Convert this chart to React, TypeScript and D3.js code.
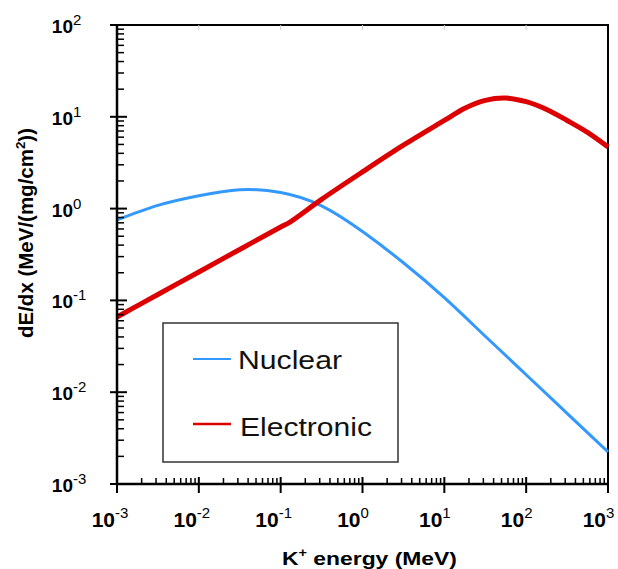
import React from "react";
import * as d3 from "d3";

const energyNuclear = [0.001, 0.00316, 0.01, 0.0316, 0.1, 0.316, 1, 3.16, 10, 31.6, 100, 316, 1000];
const nuclear = [0.752, 1.084, 1.38, 1.603, 1.496, 1.072, 0.562, 0.257, 0.107, 0.0407, 0.0155, 0.00589, 0.00224];

const energyElectronic = [0.001, 0.00316, 0.01, 0.0316, 0.1, 0.13, 0.316, 1, 3.16, 10, 17.8, 31.6, 56.2, 100, 178, 316, 562, 1000];
const electronic = [0.066, 0.116, 0.204, 0.359, 0.631, 0.714, 1.26, 2.51, 4.9, 9.12, 12.4, 15.1, 16.0, 14.6, 12.0, 9.12, 6.76, 4.69];

const xTickExponents = [-3, -2, -1, 0, 1, 2, 3];
const yTickExponents = [-3, -2, -1, 0, 1, 2];

const seriesNames = ["Nuclear", "Electronic"];
const seriesColors = ["#3399ff", "#dd0000"];

const W = 618;
const H = 569;
const L = 117, R = 608, T = 25, B = 484;
const FONT = "'Liberation Sans', Arial, Helvetica, sans-serif";

export default function App() {
  const x = d3.scaleLog().domain([1e-3, 1e3]).range([L, R]);
  const y = d3.scaleLog().domain([1e-3, 1e2]).range([B, T]);

  const nuLine = d3
    .line<[number, number]>()
    .x((d) => x(d[0]))
    .y((d) => y(d[1]))
    .curve(d3.curveNatural);
  const elLine = d3
    .line<[number, number]>()
    .x((d) => x(d[0]))
    .y((d) => y(d[1]))
    .curve(d3.curveCatmullRom.alpha(0.5));

  const nuPath = nuLine(energyNuclear.map((e, i) => [e, nuclear[i]]) as [number, number][]) || "";
  const elPath = elLine(energyElectronic.map((e, i) => [e, electronic[i]]) as [number, number][]) || "";

  const xMinor: number[] = [];
  for (let p = -3; p < 3; p++) for (let m = 2; m <= 9; m++) xMinor.push(m * Math.pow(10, p));
  const yMinor: number[] = [];
  for (let p = -3; p < 2; p++) for (let m = 2; m <= 9; m++) yMinor.push(m * Math.pow(10, p));

  return (
    <svg width={W} height={H} style={{ position: "absolute", left: 0, top: 0, background: "#fff" }} fontFamily={FONT}>
      <rect x={0} y={0} width={W} height={H} fill="#fff" />
      {/* frame */}
      <line x1={L} y1={T} x2={R + 1} y2={T} stroke="#000" strokeWidth={2} />
      <line x1={R} y1={T} x2={R} y2={B} stroke="#000" strokeWidth={2} />
      {/* faint top ticks */}
      {xTickExponents.slice(1, -1).map((p) => (
        <line key={"tt" + p} x1={x(Math.pow(10, p))} x2={x(Math.pow(10, p))} y1={T} y2={T + 5} stroke="#ccc" strokeWidth={1} />
      ))}
      {/* curves */}
      <path d={nuPath} fill="none" stroke={seriesColors[0]} strokeWidth={3} />
      <path d={elPath} fill="none" stroke={seriesColors[1]} strokeWidth={5} />
      {/* axes */}
      <line x1={L} y1={T} x2={L} y2={B + 1} stroke="#000" strokeWidth={2.5} />
      <line x1={L - 1} y1={B} x2={R + 1} y2={B} stroke="#000" strokeWidth={2.5} />
      {xMinor.map((v, i) => (
        <line key={"xm" + i} x1={x(v)} x2={x(v)} y1={B} y2={B - 6} stroke="#000" strokeWidth={1.5} />
      ))}
      {xTickExponents.map((p) => (
        <line key={"xM" + p} x1={x(Math.pow(10, p))} x2={x(Math.pow(10, p))} y1={B - 7} y2={B + 9} stroke="#000" strokeWidth={2} />
      ))}
      {yMinor.map((v, i) => (
        <line key={"ym" + i} x1={L} x2={L + 7} y1={y(v)} y2={y(v)} stroke="#000" strokeWidth={1.5} />
      ))}
      {yTickExponents.map((p) => (
        <line key={"yM" + p} x1={L - 7} x2={L + 10} y1={y(Math.pow(10, p))} y2={y(Math.pow(10, p))} stroke="#000" strokeWidth={2} />
      ))}
      {/* x tick labels */}
      {xTickExponents.map((p) => {
        const tx = x(Math.pow(10, p));
        return (
          <g key={"xl" + p}>
            <text x={tx - 2} y={527} textAnchor="end" fontSize={21} fontWeight="bold" fill="#000">10</text>
            <text x={tx - 2} y={518} textAnchor="start" fontSize={15} fill="#000">{p}</text>
          </g>
        );
      })}
      {/* y tick labels */}
      {yTickExponents.map((p) => {
        const ty = y(Math.pow(10, p));
        return (
          <g key={"yl" + p}>
            <text x={73} y={ty + 8} textAnchor="end" fontSize={19} fontWeight="bold" fill="#000">10</text>
            <text x={73} y={ty} textAnchor="start" fontSize={15} fill="#000">{p}</text>
          </g>
        );
      })}
      {/* axis titles */}
      <text x={282} y={565} fontSize={19} fontWeight="bold" textLength={175} lengthAdjust="spacingAndGlyphs">
        K<tspan fontSize={12} dy={-8}>+</tspan>
        <tspan dy={8}> energy (MeV)</tspan>
      </text>
      <text transform={`translate(33,233) rotate(-90)`} textAnchor="middle" fontSize={20} fontWeight="bold" textLength={210} lengthAdjust="spacingAndGlyphs">
        dE/dx (MeV/(mg/cm<tspan fontSize={13} dy={-8}>2</tspan>
        <tspan dy={8}>))</tspan>
      </text>
      {/* legend */}
      <rect x={163} y={323} width={235} height={139} fill="#fff" stroke="#333" strokeWidth={1.5} />
      <line x1={193} x2={231} y1={359} y2={359} stroke={seriesColors[0]} strokeWidth={2} />
      <text x={238} y={369} fontSize={25} textLength={104} lengthAdjust="spacingAndGlyphs" fill="#111">
        {seriesNames[0]}
      </text>
      <line x1={193} x2={231} y1={424} y2={424} stroke={seriesColors[1]} strokeWidth={2.5} />
      <text x={240} y={436} fontSize={25} textLength={132} lengthAdjust="spacingAndGlyphs" fill="#111">
        {seriesNames[1]}
      </text>
    </svg>
  );
}
